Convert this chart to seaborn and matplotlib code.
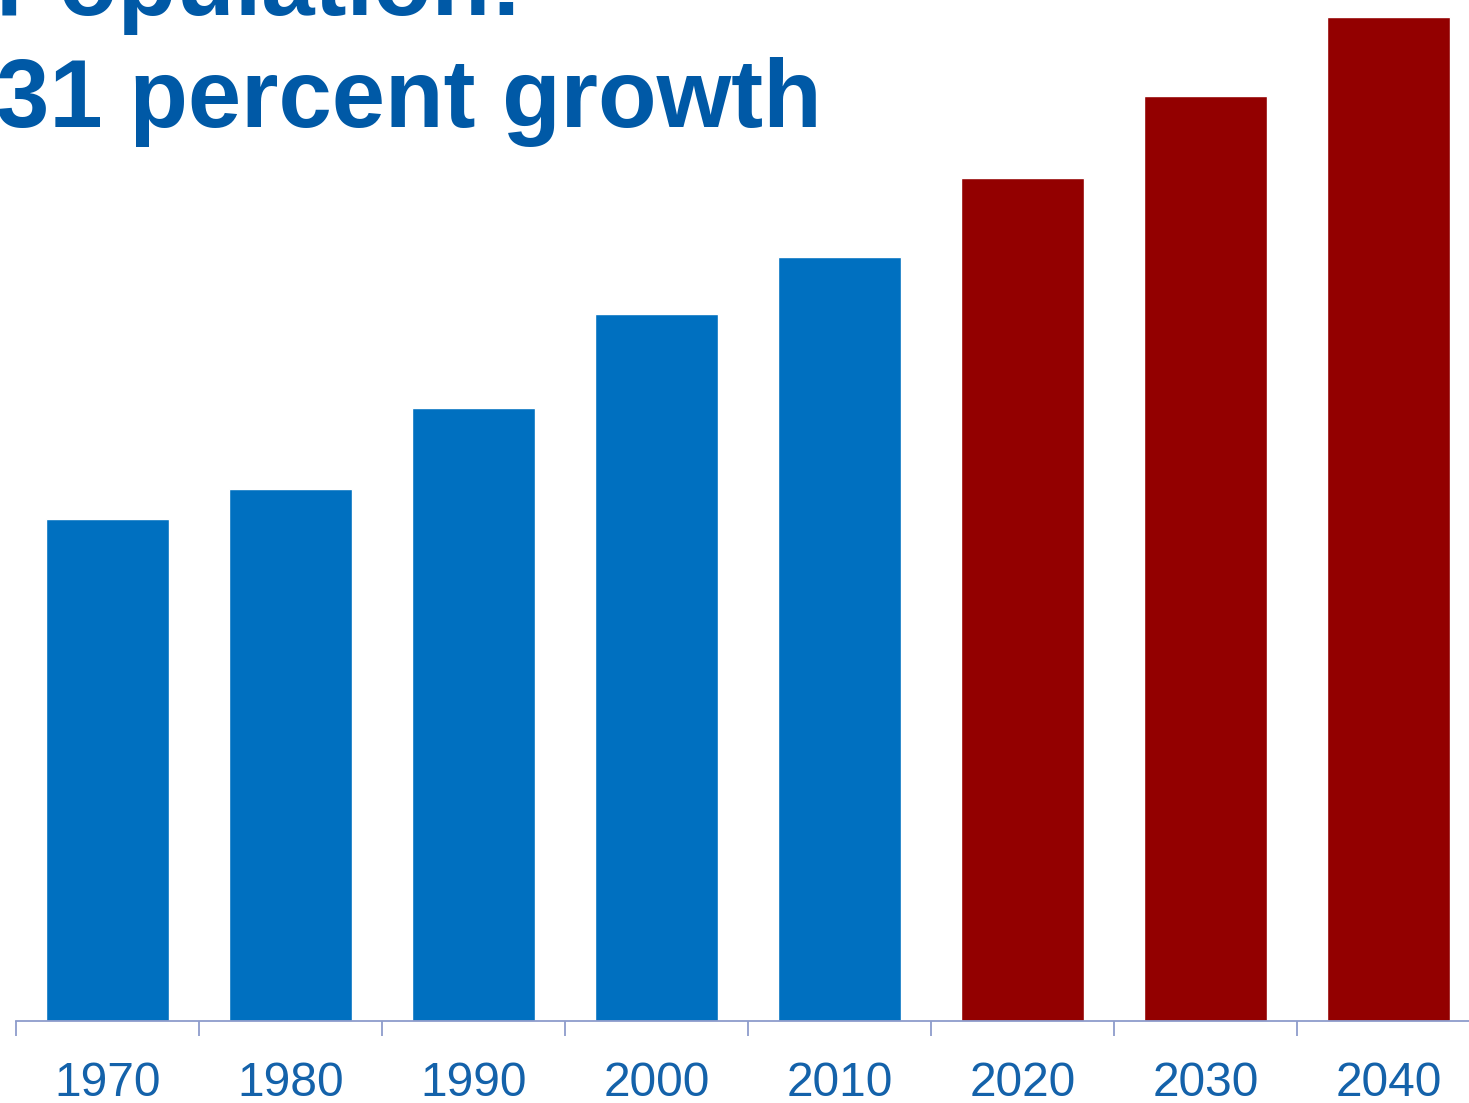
import matplotlib
matplotlib.use("Agg")
import matplotlib.pyplot as plt
import seaborn as sns
import numpy as np
import pandas as pd

years = ["1970", "1980", "1990", "2000", "2010", "2020", "2030", "2040"]
population = [203, 215, 248, 286, 309, 341, 374, 406]
period = ["Historical"] * 5 + ["Projected"] * 3
title_line1 = "Population:"
title_line2 = "31 percent growth"

BLUE = "#0070c0"
RED = "#930000"
TITLE_COLOR = "#0059a6"
LABEL_COLOR = "#1462aa"
AXIS_COLOR = "#8d9ccb"

df = pd.DataFrame({"year": years, "population": population, "period": period})

sns.set_theme(style="white")
plt.rcParams["font.family"] = ["Liberation Sans", "DejaVu Sans"]

W, H = 1469, 1103
fig = plt.figure(figsize=(W / 100, H / 100), dpi=100)
ax_bottom_px = 1021
ax = fig.add_axes([16 / W, (H - ax_bottom_px) / H, 1464 / W, ax_bottom_px / H])

sns.barplot(data=df, x="year", y="population", hue="period",
            palette={"Historical": BLUE, "Projected": RED},
            dodge=False, width=0.667, legend=False, ax=ax, saturation=1)

ax.set_xlim(-0.5, len(years) - 0.5)
k = 309 / 764.0
ax.set_ylim(0, ax_bottom_px * k)

for s in ["left", "right", "top"]:
    ax.spines[s].set_visible(False)
ax.spines["bottom"].set_color(AXIS_COLOR)
ax.spines["bottom"].set_linewidth(1.3)

ax.set_yticks([])
ax.set_xlabel("")
ax.set_ylabel("")
ax.set_xticks(np.arange(-0.5, len(years), 1), minor=True)
ax.tick_params(axis="x", which="minor", length=10.5, width=1.3, color=AXIS_COLOR, bottom=True)
ax.tick_params(axis="x", which="major", length=0, pad=29, labelsize=34.5, labelcolor=LABEL_COLOR)

fig.text(-4 / W, (H - 15) / H, title_line1, fontsize=69, fontweight="bold",
         color=TITLE_COLOR, ha="left", va="baseline")
fig.text(-4 / W, (H - 127) / H, title_line2, fontsize=69, fontweight="bold",
         color=TITLE_COLOR, ha="left", va="baseline")

fig.savefig("out.png", dpi=100)
